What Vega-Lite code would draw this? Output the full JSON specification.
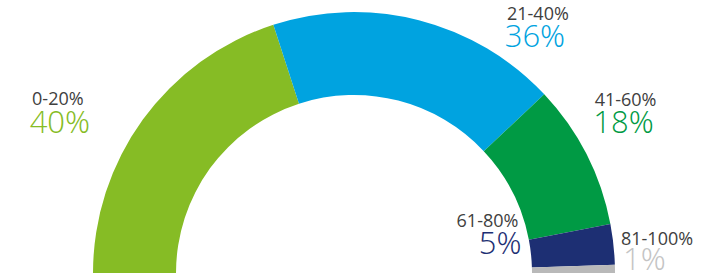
{
  "$schema": "https://vega.github.io/schema/vega-lite/v6.json",
  "width": 708,
  "height": 275,
  "padding": 0,
  "autosize": "none",
  "background": "white",
  "config": {"view": {"stroke": null}, "font": "Open Sans"},
  "layer": [
    {
      "data": {"values": [{}]},
      "mark": {"type": "rule", "x": 2.5, "y": 0, "y2": "height", "strokeDash": [2, 3], "color": "#8a8a8a", "strokeWidth": 1},
      "encoding": {}
    },
    {
      "data": {
        "values": [
          {"range": "0-20%", "pct": 40, "label": "40%", "order": 1},
          {"range": "21-40%", "pct": 36, "label": "36%", "order": 2},
          {"range": "41-60%", "pct": 18, "label": "18%", "order": 3},
          {"range": "61-80%", "pct": 5, "label": "5%", "order": 4},
          {"range": "81-100%", "pct": 1, "label": "1%", "order": 5}
        ]
      },
      "encoding": {
        "theta": {"field": "pct", "type": "quantitative", "stack": true, "scale": {"range": [-1.5707963, 1.5707963]}},
        "order": {"field": "order", "type": "quantitative"}
      },
      "layer": [
        {
          "mark": {"type": "arc", "outerRadius": 261, "innerRadius": 178, "y": 273},
          "encoding": {
            "color": {"field": "range", "type": "nominal", "legend": null,
              "scale": {"domain": ["0-20%", "21-40%", "41-60%", "61-80%", "81-100%"],
                        "range": ["#86BC25", "#00A3E0", "#009A44", "#1D2F73", "#B9B9B9"]}}
          }
        },
        {
          "mark": {"type": "text", "radius": 261, "y": 273, "align": "center", "baseline": "middle", "dx": -85, "dy": -20, "fontSize": 18, "color": "#404040"},
          "encoding": {"text": {"condition": {"test": "datum.range === '0-20%'", "field": "range", "type": "nominal"}, "value": ""}}
        },
        {
          "mark": {"type": "text", "radius": 261, "y": 273, "align": "center", "baseline": "middle", "dx": -83, "dy": 4, "fontSize": 31, "font": "Open Sans Light, Open Sans", "fontWeight": 300, "color": "#86BC25"},
          "encoding": {"text": {"condition": {"test": "datum.range === '0-20%'", "field": "label", "type": "nominal"}, "value": ""}}
        },
        {
          "mark": {"type": "text", "radius": 261, "y": 273, "align": "center", "baseline": "middle", "dx": 119, "dy": -5, "fontSize": 18, "color": "#404040"},
          "encoding": {"text": {"condition": {"test": "datum.range === '21-40%'", "field": "range", "type": "nominal"}, "value": ""}}
        },
        {
          "mark": {"type": "text", "radius": 261, "y": 273, "align": "center", "baseline": "middle", "dx": 116, "dy": 18, "fontSize": 31, "font": "Open Sans Light, Open Sans", "fontWeight": 300, "color": "#00A3E0"},
          "encoding": {"text": {"condition": {"test": "datum.range === '21-40%'", "field": "label", "type": "nominal"}, "value": ""}}
        },
        {
          "mark": {"type": "text", "radius": 261, "y": 273, "align": "center", "baseline": "middle", "dx": 39, "dy": -54, "fontSize": 18, "color": "#404040"},
          "encoding": {"text": {"condition": {"test": "datum.range === '41-60%'", "field": "range", "type": "nominal"}, "value": ""}}
        },
        {
          "mark": {"type": "text", "radius": 261, "y": 273, "align": "center", "baseline": "middle", "dx": 37, "dy": -31, "fontSize": 31, "font": "Open Sans Light, Open Sans", "fontWeight": 300, "color": "#009A44"},
          "encoding": {"text": {"condition": {"test": "datum.range === '41-60%'", "field": "label", "type": "nominal"}, "value": ""}}
        },
        {
          "mark": {"type": "text", "radius": 261, "y": 273, "align": "right", "baseline": "middle", "dx": -95, "dy": -22, "fontSize": 18, "color": "#404040"},
          "encoding": {"text": {"condition": {"test": "datum.range === '61-80%'", "field": "range", "type": "nominal"}, "value": ""}}
        },
        {
          "mark": {"type": "text", "radius": 261, "y": 273, "align": "right", "baseline": "middle", "dx": -92, "dy": 1, "fontSize": 31, "font": "Open Sans Light, Open Sans", "fontWeight": 300, "color": "#1D2F73"},
          "encoding": {"text": {"condition": {"test": "datum.range === '61-80%'", "field": "label", "type": "nominal"}, "value": ""}}
        },
        {
          "mark": {"type": "text", "radius": 261, "y": 273, "align": "left", "baseline": "middle", "dx": 6, "dy": -29, "fontSize": 18, "color": "#404040"},
          "encoding": {"text": {"condition": {"test": "datum.range === '81-100%'", "field": "range", "type": "nominal"}, "value": ""}}
        },
        {
          "mark": {"type": "text", "radius": 261, "y": 273, "align": "left", "baseline": "middle", "dx": 8, "dy": -8, "fontSize": 31, "font": "Open Sans Light, Open Sans", "fontWeight": 300, "color": "#C4C4C4"},
          "encoding": {"text": {"condition": {"test": "datum.range === '81-100%'", "field": "label", "type": "nominal"}, "value": ""}}
        }
      ]
    }
  ]
}
